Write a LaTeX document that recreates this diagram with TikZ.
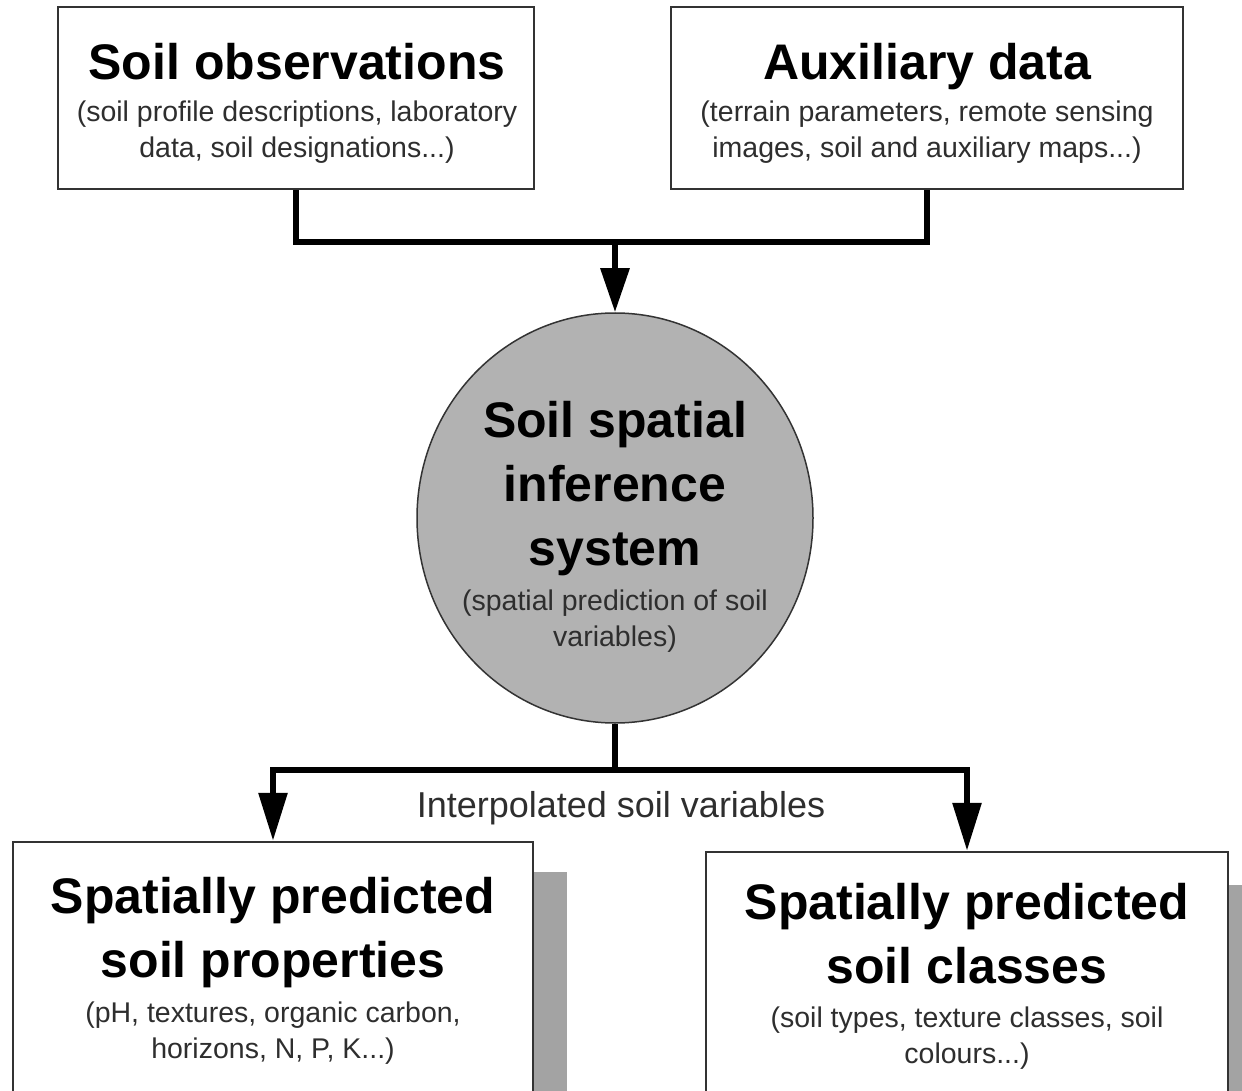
\documentclass[tikz,border=0pt]{standalone}
\usepackage{fontspec}
\setmainfont{Liberation Sans}
\usetikzlibrary{arrows.meta,shapes.geometric}
\definecolor{boxline}{HTML}{333333}
\definecolor{subgray}{HTML}{2E2E2E}
\definecolor{circfill}{HTML}{B2B2B2}
\definecolor{shadowgray}{HTML}{A3A3A3}
\begin{document}
\begin{tikzpicture}[x=1pt,y=-1pt,
  box/.style={draw=boxline, line width=2.5pt, fill=white, rectangle, inner sep=0pt},
  titletext/.style={font=\fontsize{50}{62}\selectfont\bfseries, text=black, anchor=base, inner sep=0pt},
  subtext/.style={font=\fontsize{28.5}{36}\selectfont, text=subgray, anchor=base, inner sep=0pt},
  conn/.style={line width=6pt, black},
  arr/.style={conn, -{Triangle[length=44pt,width=28pt]}},
  arrlong/.style={conn, -{Triangle[length=48pt,width=28pt]}},
  shadowbox/.style={fill=shadowgray},
]
\useasboundingbox (0,0) rectangle (1242,1091);
\clip (0,0) rectangle (1242,1091);

% top boxes
\node[box, minimum width=476pt, minimum height=182pt] (obs) at (296,98) {};
\node[box, minimum width=512pt, minimum height=182pt] (aux) at (927,98) {};
\node[titletext] (obsT) at (297,80) {Soil observations};
\node[subtext] (obsS1) at (297,122) {(soil profile descriptions, laboratory};
\node[subtext] (obsS2) at (297,158) {data, soil designations...)};
\node[titletext] (auxT) at (927,80) {Auxiliary data};
\node[subtext] (auxS1) at (927,122) {(terrain parameters, remote sensing};
\node[subtext] (auxS2) at (927,158) {images, soil and auxiliary maps...)};

% central ellipse
\node[ellipse, draw=boxline, fill=circfill, line width=1.5pt, minimum width=396pt, minimum height=410pt, inner sep=0pt] (sis) at (615,518) {};
\node[titletext] (sisT1) at (615,437) {Soil spatial};
\node[titletext] (sisT2) at (615,501) {inference};
\node[titletext] (sisT3) at (615,565) {system};
\node[subtext] (sisS1) at (615,610) {(spatial prediction of soil};
\node[subtext] (sisS2) at (615,646) {variables)};

% bottom boxes with shadows
\fill[shadowbox] (47,872) rectangle (567,1140);
\fill[shadowbox] (740,885) rectangle (1262,1140);
\node[box, minimum width=520pt, minimum height=290pt] (prop) at (273,987) {};
\node[box, minimum width=522pt, minimum height=290pt] (cls) at (967,997) {};
\node[titletext] (propT1) at (273,913) {Spatially predicted};
\node[titletext] (propT2) at (273,977) {soil properties};
\node[subtext] (propS1) at (273,1022) {(pH, textures, organic carbon,};
\node[subtext] (propS2) at (273,1058) {horizons, N, P, K...)};
\node[titletext] (clsT1) at (967,919) {Spatially predicted};
\node[titletext] (clsT2) at (967,983) {soil classes};
\node[subtext] (clsS1) at (967,1027) {(soil types, texture classes, soil};
\node[subtext] (clsS2) at (967,1063) {colours...)};

% connectors
\coordinate (j1) at (615,242);
\draw[conn] (obs.south) |- (aux.south |- j1) -- (aux.south);
\draw[arr] (j1) -- (sis.north);

\coordinate (j2) at (615,770);
\draw[conn] (sis.south) -- (j2);
\draw[arrlong] (j2) -| (prop.north);
\draw[arrlong] (j2) -| (cls.north);
\node[font=\fontsize{36}{40}\selectfont, text=subgray, anchor=base, inner sep=0pt] (lbl) at (621,817) {Interpolated soil variables};
\end{tikzpicture}
\end{document}
